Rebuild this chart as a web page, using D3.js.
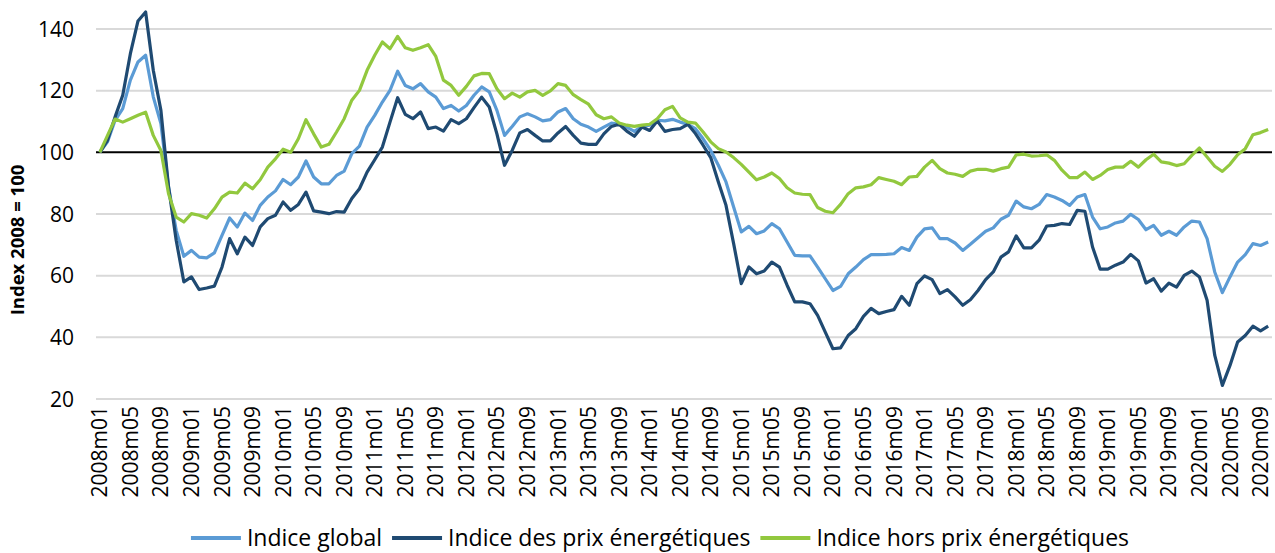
<!DOCTYPE html>
<html>
<head>
<meta charset="utf-8">
<script src="https://cdn.jsdelivr.net/npm/d3@7"></script>
<style>
  body { margin: 0; background: #fff; }
  svg text { font-family: "Open Sans", "Noto Sans", sans-serif; fill: #000; }
</style>
</head>
<body>
<div id="chart"></div>
<script>
// Months 2008m01 .. 2020m10
var months = [];
for (var y = 2008; y <= 2020; y++) {
  for (var m = 1; m <= 12; m++) {
    if (y === 2020 && m > 10) break;
    months.push(y + "m" + (m < 10 ? "0" + m : m));
  }
}

var seriesNames = ["Indice global", "Indice des prix énergétiques", "Indice hors prix énergétiques"];

var indiceGlobal = [100,103.4,110.4,114.2,123.4,129.3,131.5,118,109.3,88.8,74.7,66.3,68.2,66,65.8,67.4,73.1,78.7,75.8,80.3,
  77.9,82.8,85.5,87.5,91.2,89.5,92,97.2,92,89.8,89.8,92.5,93.9,99.6,102,108.2,112,116.3,120.1,126.3,
  121.7,120.6,122.3,119.6,117.9,114.2,115.2,113.4,115.2,118.5,121.2,119.6,113.6,105.5,108.4,111.5,112.5,111.5,110.2,110.6,
  113.1,114.2,110.9,109.1,108.2,106.8,108.2,109.5,109.1,108.2,106.8,108.4,108.8,110.4,110.2,110.7,109.8,109.1,107.7,104.4,
  100.6,95.8,90.4,82.3,74.2,76,73.6,74.5,76.9,75.2,70.9,66.6,66.4,66.4,62.8,59,55.2,56.5,60.6,62.8,
  65.2,66.8,66.8,66.9,67.1,69.1,68.2,72.5,75.2,75.5,72,72,70.6,68.2,70.2,72.3,74.4,75.5,78.3,79.6,
  84.2,82.3,81.7,83.1,86.3,85.5,84.4,82.8,85.5,86.3,79,75.2,75.8,77.1,77.7,79.9,78.2,74.9,76.3,73.1,
  74.4,73.1,75.8,77.7,77.4,72,61.2,54.5,59.6,64.4,66.8,70.4,69.8,70.9];

var indiceEnergie = [100,103.9,111.5,118.5,132,142.6,145.5,126.6,113.6,88.8,71.5,58,59.6,55.5,56,56.6,62.8,72,67.1,72.5,
  69.8,75.8,78.5,79.6,83.9,81.2,83.1,87.1,81,80.6,80.1,80.8,80.6,85,88.2,93.6,97.6,101.7,109.8,117.7,
  112.3,110.9,113.1,107.7,108.2,106.9,110.6,109.3,110.9,114.5,117.9,114.7,106,95.8,100.6,106.3,107.4,105.5,103.7,103.7,
  106.3,108.4,105.5,103,102.6,102.6,106,108.4,109.1,106.9,105.2,108.2,107.1,110.2,106.8,107.4,107.7,109.1,106.1,102.3,
  98.3,90.4,82.8,70.4,57.4,62.8,60.6,61.5,64.4,62.8,56.9,51.5,51.5,50.9,47.1,41.7,36.3,36.6,40.6,42.8,
  46.8,49.4,47.7,48.4,49,53.3,50.4,57.4,59.9,58.7,54.2,55.5,53.1,50.4,52.2,55.2,58.7,61.2,66,67.7,
  72.9,69,69,71.5,76.1,76.3,76.9,76.6,81.2,80.9,69.3,62.1,62.1,63.4,64.4,66.9,64.8,57.6,59,55,
  57.6,56.3,60.1,61.5,59.6,52,34.2,24.4,30.9,38.5,40.6,43.6,42.1,43.6];

var indiceHorsEnergie = [100,105.4,110.8,109.8,110.9,112,113,105.5,100.6,86.6,79,77.4,80.1,79.6,78.7,81.7,85.5,87.1,86.8,90,
  88.2,91.1,95.2,97.9,101,100,104.4,110.6,106,101.7,102.6,106.6,110.9,116.9,120.1,126.6,131.5,135.8,133.6,137.6,
  133.9,133.1,133.9,134.9,131.1,123.4,121.7,118.5,121.4,124.8,125.6,125.5,120.6,117.4,119.2,117.9,119.6,120.1,118.5,119.9,
  122.3,121.7,118.7,117.1,115.6,112.2,110.9,111.5,109.5,108.8,108.4,108.8,109.1,110.9,113.8,114.9,111.2,109.8,109.5,106.6,
  103.4,101.2,100.1,98.3,96.1,93.6,91.1,92,93.3,91.5,88.5,86.8,86.4,86.3,82.1,80.9,80.4,83.1,86.6,88.5,
  88.8,89.5,91.8,91.2,90.6,89.5,92,92.2,95.2,97.4,94.7,93.3,92.9,92.2,93.9,94.5,94.5,93.9,94.7,95.2,
  99.2,99.4,98.8,98.9,99.2,97.4,94.2,91.8,91.8,93.6,91.2,92.5,94.4,95.2,95.2,97.1,95.2,97.6,99.4,96.9,
  96.5,95.7,96.3,99,101.4,98.5,95.5,93.8,96.1,99.2,101.2,105.7,106.4,107.4];

var yTicks = [20, 40, 60, 80, 100, 120, 140];
var colors = ["#5B9BD5", "#1F4A72", "#92C83E"];

var width = 1275, height = 553;
var plot = {left: 96, right: 1272, top: 29, bottom: 399};

var svg = d3.select("#chart").append("svg")
  .attr("width", width)
  .attr("height", height);

var xScale = d3.scalePoint()
  .domain(months)
  .range([plot.left, plot.right])
  .padding(0.5);

var yScale = d3.scaleLinear()
  .domain([20, 140])
  .range([plot.bottom, plot.top]);

// Gridlines
svg.append("g").selectAll("line")
  .data(yTicks.filter(function(d) { return d !== 100; }))
  .enter().append("line")
  .attr("x1", plot.left).attr("x2", plot.right)
  .attr("y1", function(d) { return yScale(d); })
  .attr("y2", function(d) { return yScale(d); })
  .attr("stroke", "#d9d9d9")
  .attr("stroke-width", 2);

// Y labels
svg.append("g").selectAll("text")
  .data(yTicks)
  .enter().append("text")
  .attr("x", 74)
  .attr("y", function(d) { return yScale(d); })
  .attr("dy", "0.36em")
  .attr("text-anchor", "end")
  .style("font-size", "21px")
  .text(function(d) { return d; });

// Y title
svg.append("text")
  .attr("transform", "translate(24,240) rotate(-90)")
  .attr("text-anchor", "middle")
  .style("font-size", "18.5px")
  .style("font-weight", "bold")
  .text("Index 2008 = 100");

// X labels every 4 months
svg.append("g").selectAll("text")
  .data(months.filter(function(d, i) { return i % 4 === 0; }))
  .enter().append("text")
  .attr("transform", function(d) { return "translate(" + xScale(d) + ",406) rotate(-90)"; })
  .attr("dy", "0.36em")
  .attr("text-anchor", "end")
  .style("font-size", "21px")
  .text(function(d) { return d; });

// Base line at 100
svg.append("line")
  .attr("x1", plot.left).attr("x2", plot.right)
  .attr("y1", yScale(100)).attr("y2", yScale(100))
  .attr("stroke", "#000")
  .attr("stroke-width", 2);

// Lines
var allSeries = [indiceGlobal, indiceEnergie, indiceHorsEnergie];
var line = d3.line()
  .x(function(d, i) { return xScale(months[i]); })
  .y(function(d) { return yScale(d); });

allSeries.forEach(function(s, k) {
  svg.append("path")
    .datum(s)
    .attr("fill", "none")
    .attr("stroke", colors[k])
    .attr("stroke-width", 3.2)
    .attr("stroke-linejoin", "round")
    .attr("d", line);
});

// Legend
var legend = svg.append("g");
var lx = 0;
seriesNames.forEach(function(name, k) {
  var g = legend.append("g");
  g.append("line")
    .attr("x1", lx).attr("x2", lx + 50)
    .attr("y1", 0).attr("y2", 0)
    .attr("stroke", colors[k])
    .attr("stroke-width", 4);
  var t = g.append("text")
    .attr("x", lx + 56)
    .attr("y", 0)
    .attr("dy", "0.36em")
    .style("font-size", "23px")
    .text(name);
  lx += 56 + t.node().getComputedTextLength() + 10;
});
var legendWidth = lx - 10;
legend.attr("transform", "translate(" + (660 - legendWidth / 2) + ",538)");
</script>
</body>
</html>
